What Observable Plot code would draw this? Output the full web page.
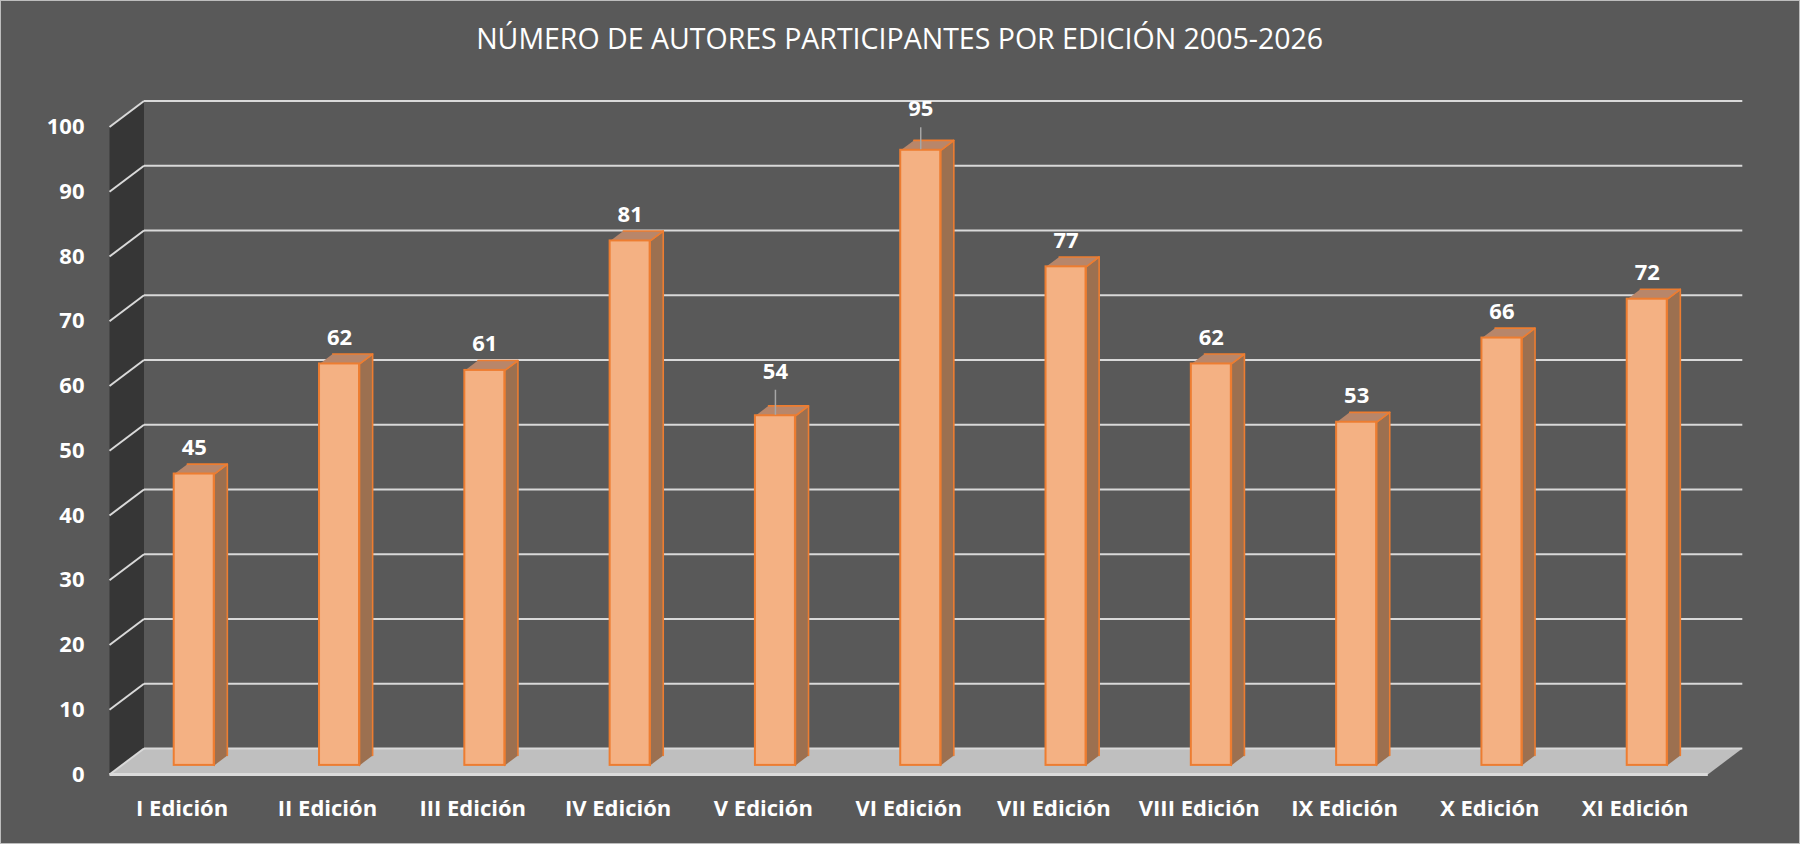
<!DOCTYPE html>
<html>
<head>
<meta charset="utf-8">
<script src="https://cdn.jsdelivr.net/npm/d3@7"></script>
<script src="https://cdn.jsdelivr.net/npm/@observablehq/plot@0.6"></script>
<style>
  html, body { margin: 0; padding: 0; background: #595959; }
  #wrap { position: relative; width: 1800px; height: 844px; background: #595959; overflow: hidden; }
  #title { height: 80px; box-sizing: border-box; padding-top: 23px; text-align: center; color: #ffffff;
           font-family: "Open Sans", sans-serif; font-size: 30px; line-height: 30px; white-space: nowrap; }
  #title span { display: inline-block; transform-origin: center center; }
  #chart svg { display: block; }
  #frame { position: absolute; left: 0; top: 0; right: 0; bottom: 0; border: 1.5px solid #bdbdbd; pointer-events: none; }
</style>
</head>
<body>
<div id="wrap">
  <div id="title"><span id="titleText"></span></div>
  <div id="chart"></div>
  <div id="frame"></div>
</div>
<script>
// ---- data ----
const chartTitle = "NÚMERO DE AUTORES PARTICIPANTES POR EDICIÓN 2005-2026";
const categories = ["I Edición", "II Edición", "III Edición", "IV Edición", "V Edición", "VI Edición",
                    "VII Edición", "VIII Edición", "IX Edición", "X Edición", "XI Edición"];
const values = [45, 62, 61, 81, 54, 95, 77, 62, 53, 66, 72];
const yTicks = [0, 10, 20, 30, 40, 50, 60, 70, 80, 90, 100];

// ---- layout / style options ----
const W = 1800, H = 764;
const mL = 109, mR = 92.7, mT = 46.5, mB = 70;
const n = categories.length;
const yMax = 100;
const bandPx = (W - mL - mR) / n;
const pxPerUnit = (H - mT - mB) / yMax;
const depthPx = {x: 34.5, y: 26};          // oblique depth of the plot box
const KX = depthPx.x / bandPx;             // depth in x-units
const KY = depthPx.y / pxPerUnit;          // depth in y-units
const f0 = 0.35, f1 = 0.73;                // bar front / back depth fraction
const hw = 20 / bandPx;                    // half bar width in x-units
const labelOffsetPx = 26;
const labelLiftPx = {"V Edición": 18, "VI Edición": 15};   // labels pushed up with leader lines

const proj = (xu, v, d) => ({x: xu + d * KX, y: v + d * KY});

document.getElementById("titleText").textContent = chartTitle;

// polygons
const wall = [proj(0, 0, 0), proj(0, yMax, 0), proj(0, yMax, 1), proj(0, 0, 1)].map(p => ({...p, id: "wall"}));
const floor = [proj(0, 0, 0), proj(n, 0, 0), proj(n, 0, 1), proj(0, 0, 1)].map(p => ({...p, id: "floor"}));

const bars = categories.map((cat, i) => ({cat, v: values[i], cx: i + 0.5}));
const sides = bars.flatMap(b => [
  proj(b.cx + hw, 0, f0), proj(b.cx + hw, b.v, f0), proj(b.cx + hw, b.v, f1), proj(b.cx + hw, 0, f1)
].map(p => ({...p, id: b.cat})));
const tops = bars.flatMap(b => [
  proj(b.cx - hw, b.v, f0), proj(b.cx + hw, b.v, f0), proj(b.cx + hw, b.v, f1), proj(b.cx - hw, b.v, f1)
].map(p => ({...p, id: b.cat})));

const lifted = bars.filter(b => labelLiftPx[b.cat]);

const chart = Plot.plot({
  width: W, height: H,
  marginLeft: mL, marginRight: mR, marginTop: mT, marginBottom: mB,
  x: {domain: [0, n], axis: null},
  y: {domain: [0, yMax], axis: null},
  style: {background: "transparent", color: "#ffffff", fontFamily: "'Open Sans', sans-serif", overflow: "visible"},
  marks: [
    // left wall
    Plot.line(wall, {x: "x", y: "y", z: "id", fill: "#363636", stroke: "none"}),
    // floor
    Plot.line(floor, {x: "x", y: "y", z: "id", fill: "#bfbfbf", stroke: "none"}),
    // back-wall gridlines
    Plot.link(yTicks, {
      x1: () => proj(0, 0, 1).x, x2: () => proj(n, 0, 1).x,
      y1: v => proj(0, v, 1).y, y2: v => proj(0, v, 1).y,
      stroke: "#d9d9d9", strokeWidth: 2
    }),
    // side-wall gridlines
    Plot.link(yTicks, {
      x1: () => proj(0, 0, 0).x, x2: () => proj(0, 0, 1).x,
      y1: v => proj(0, v, 0).y, y2: v => proj(0, v, 1).y,
      stroke: "#d9d9d9", strokeWidth: 2
    }),
    // floor front edge
    Plot.link([0], {
      x1: () => proj(0, 0, 0).x, x2: () => proj(n, 0, 0).x,
      y1: () => proj(0, 0, 0).y, y2: () => proj(0, 0, 0).y,
      stroke: "#dadada", strokeWidth: 3
    }),
    // bar side faces
    Plot.line(sides, {x: "x", y: "y", z: "id", fill: "#9c7050", stroke: "#ed7d31", strokeWidth: 1.6}),
    // bar top faces
    Plot.line(tops, {x: "x", y: "y", z: "id", fill: "#b8866a", stroke: "#ed7d31", strokeWidth: 1.6}),
    // bar front faces
    Plot.rect(bars, {
      x1: b => proj(b.cx - hw, 0, f0).x, x2: b => proj(b.cx + hw, 0, f0).x,
      y1: b => proj(0, 0, f0).y, y2: b => proj(0, b.v, f0).y,
      fill: "#f4b183", stroke: "#ed7d31", strokeWidth: 2
    }),
    // leader lines
    Plot.link(lifted, {
      x1: b => proj(b.cx, 0, f0).x, x2: b => proj(b.cx, 0, f0).x,
      y1: b => proj(0, b.v, f0).y + 1 / pxPerUnit,
      y2: b => proj(0, b.v, f0).y + (labelOffsetPx + labelLiftPx[b.cat] - 18) / pxPerUnit,
      stroke: "#a6a6a6", strokeWidth: 1.5
    }),
    // data labels
    Plot.text(bars, {
      x: b => proj(b.cx, 0, f0).x,
      y: b => proj(0, b.v, f0).y + (labelLiftPx[b.cat] || 0) / pxPerUnit,
      text: b => String(b.v),
      dy: -labelOffsetPx,
      fill: "#ffffff", fontWeight: "bold", fontSize: 22
    }),
    // y tick labels
    Plot.text(yTicks, {
      x: () => 0, y: v => v, text: v => String(v),
      dx: -25, textAnchor: "end",
      fill: "#ffffff", fontWeight: "bold", fontSize: 22
    }),
    // x category labels
    Plot.text(bars, {
      x: b => b.cx, y: () => 0, text: "cat",
      dy: 34,
      fill: "#ffffff", fontWeight: "bold", fontSize: 22
    })
  ]
});
document.getElementById("chart").appendChild(chart);

function fitTitle() {
  const span = document.getElementById("titleText");
  span.style.transform = "none";
  const w = span.getBoundingClientRect().width;
  if (w > 0) span.style.transform = `scaleX(${847 / w})`;
}
fitTitle();
if (document.fonts && document.fonts.ready) document.fonts.ready.then(fitTitle);
</script>
</body>
</html>
